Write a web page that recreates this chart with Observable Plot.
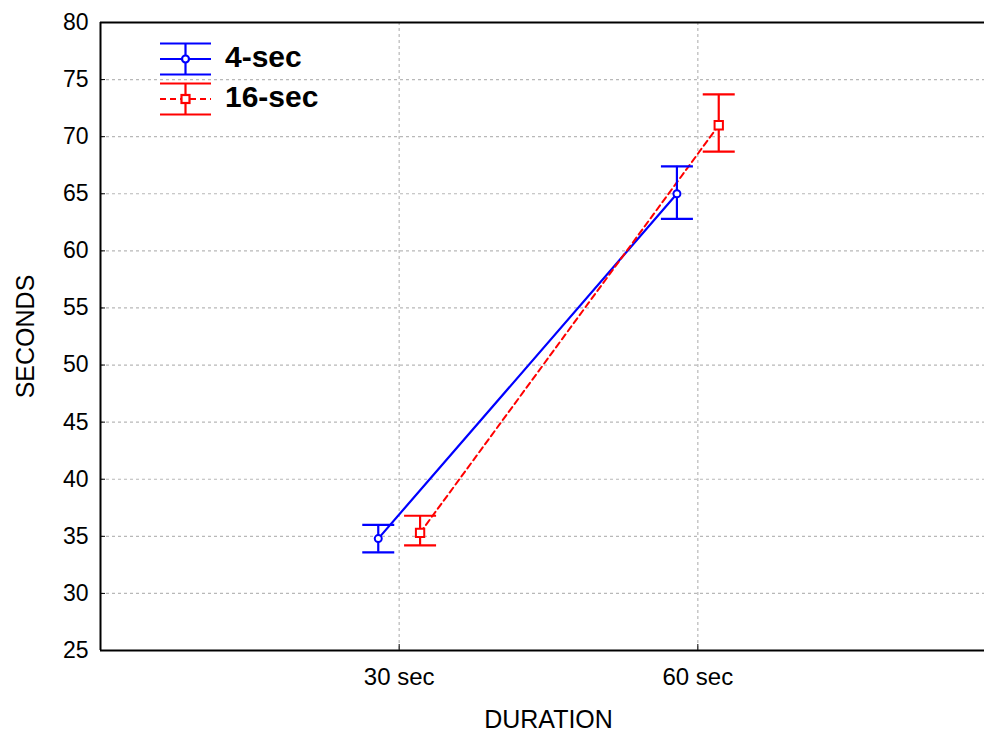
<!DOCTYPE html>
<html><head><meta charset="utf-8">
<script src="https://cdn.jsdelivr.net/npm/d3@7"></script>
<script src="https://cdn.jsdelivr.net/npm/@observablehq/plot@0.6"></script>
<style>
html,body{margin:0;padding:0;overflow:hidden;background:#fff;}
#wrap{position:relative;width:984px;height:733px;overflow:hidden;}
#wrap svg{max-width:none !important;}
</style></head><body><div id="wrap"></div>
<script>
const categories = ["30 sec", "60 sec"];
const seriesNames = ["4-sec", "16-sec"];
const mean4 = [34.8, 65.0];
const low4 = [33.6, 62.8];
const high4 = [36.0, 67.4];
const mean16 = [35.3, 71.0];
const low16 = [34.2, 68.7];
const high16 = [36.8, 73.7];
const yTicks = [25, 30, 35, 40, 45, 50, 55, 60, 65, 70, 75, 80];
const gridTicks = [30, 35, 40, 45, 50, 55, 60, 65, 70, 75];
const colors = ["#0000ff", "#ff0000"];
const offsets = [-0.07, 0.07];

const means = [mean4, mean16], lows = [low4, low16], highs = [high4, high16];
const rows = [];
seriesNames.forEach((s, k) => {
  categories.forEach((c, i) => {
    rows.push({series: s, k, pos: i + 1 + offsets[k], mean: means[k][i], lo: lows[k][i], hi: highs[k][i]});
  });
});
const r4 = rows.filter(d => d.k === 0), r16 = rows.filter(d => d.k === 1);
const capSymbol = {draw(ctx) { ctx.moveTo(-16, 0); ctx.lineTo(16, 0); }};
const font = "Liberation Sans, Arial, sans-serif";
const grid = {stroke: "#b8b8b8", strokeWidth: 1.2, strokeDasharray: "3,3", strokeOpacity: 1};

const chart = Plot.plot({
  width: 996, height: 733,
  marginLeft: 100, marginRight: 0, marginTop: 22, marginBottom: 83,
  style: {fontFamily: font, background: "white", overflow: "visible", maxWidth: "none"},
  x: {domain: [0, 3]},
  y: {domain: [25, 80]},
  marks: [
    Plot.ruleY(gridTicks, grid),
    Plot.ruleX([1, 2], grid),
    Plot.ruleX([0], {stroke: "black", strokeWidth: 2}),
    Plot.ruleY([25], {stroke: "black", strokeWidth: 2}),
    Plot.ruleY([80], {stroke: "black", strokeWidth: 2}),
    Plot.axisY({ticks: yTicks, tickSize: 5, dx: 5, tickPadding: 12, fontSize: 23, label: null, stroke: "black", fill: "black"}),
    Plot.axisX({ticks: [1, 2], tickFormat: v => categories[Math.round(v) - 1], tickSize: 6, dy: -6, tickPadding: 17, fontSize: 24, label: null, fill: "black"}),
    Plot.text(["SECONDS"], {frameAnchor: "left", dx: -75, rotate: -90, fontSize: 25, fill: "black", textAnchor: "middle", lineAnchor: "middle"}),
    Plot.text(["DURATION"], {frameAnchor: "bottom", dy: 77, fontSize: 25, fill: "black", textAnchor: "middle", lineAnchor: "bottom"}),
    Plot.line(r4, {x: "pos", y: "mean", stroke: colors[0], strokeWidth: 2.2}),
    Plot.line(r16, {x: "pos", y: "mean", stroke: colors[1], strokeWidth: 2, strokeDasharray: "6,4"}),
    Plot.ruleX(rows, {x: "pos", y1: "lo", y2: "hi", stroke: d => colors[d.k], strokeWidth: 2.2}),
    Plot.dot(rows, {x: "pos", y: "lo", symbol: capSymbol, stroke: d => colors[d.k], strokeWidth: 2.2}),
    Plot.dot(rows, {x: "pos", y: "hi", symbol: capSymbol, stroke: d => colors[d.k], strokeWidth: 2.2}),
    Plot.dot(r4, {x: "pos", y: "mean", r: 3.5, fill: "white", stroke: colors[0], strokeWidth: 2}),
    Plot.dot(r16, {x: "pos", y: "mean", r: 4.7, symbol: "square", fill: "white", stroke: colors[1], strokeWidth: 2})
  ]
});
// legend
const svg = d3.select(chart);
const lg = svg.append("g").attr("text-anchor", "start");
seriesNames.forEach((s, k) => {
  const cy = 59 + 40 * k;
  const g = lg.append("g").attr("stroke", colors[k]).attr("stroke-width", 2.2).attr("fill", "none");
  g.append("line").attr("x1", 160).attr("x2", 211).attr("y1", cy - 15.5).attr("y2", cy - 15.5);
  g.append("line").attr("x1", 160).attr("x2", 211).attr("y1", cy + 15.5).attr("y2", cy + 15.5);
  g.append("line").attr("x1", 185.5).attr("x2", 185.5).attr("y1", cy - 15.5).attr("y2", cy + 15.5);
  g.append("line").attr("x1", 160).attr("x2", 211).attr("y1", cy).attr("y2", cy)
    .attr("stroke-dasharray", k === 1 ? "6,4" : null);
  if (k === 0) g.append("circle").attr("cx", 185.5).attr("cy", cy).attr("r", 3.5).attr("fill", "white");
  else g.append("rect").attr("x", 181.5).attr("y", cy - 4).attr("width", 8).attr("height", 8).attr("fill", "white");
  lg.append("text").attr("x", 225).attr("y", cy + 8).attr("font-size", 30).attr("font-weight", "bold")
    .attr("font-family", font).attr("fill", "black").attr("text-anchor", "start").text(s);
});
document.getElementById("wrap").appendChild(chart);
</script></body></html>
